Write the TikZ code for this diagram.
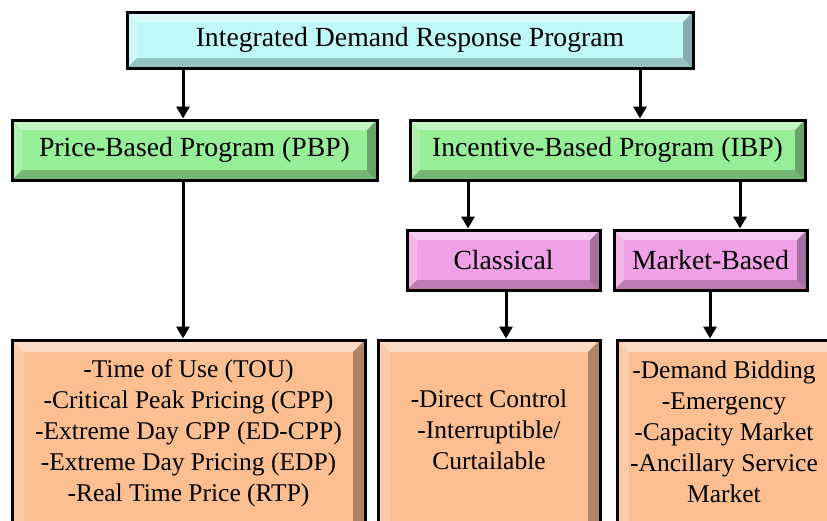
\documentclass[tikz,border=0pt]{standalone}
\usepackage{fontspec}
\setmainfont{Liberation Serif}
\usetikzlibrary{arrows.meta}

\definecolor{topcyan}{RGB}{190,248,248}
\definecolor{progreen}{RGB}{150,238,150}
\definecolor{typepink}{RGB}{240,160,230}
\definecolor{listorange}{RGB}{250,190,145}

\begin{document}
\begin{tikzpicture}[x=1pt,y=-1pt,
  box/.style={draw,line width=3pt,rectangle,inner sep=0pt,
    font=\fontsize{27.7}{31}\selectfont,align=center,
    path picture={
      \fill[white,opacity=.45] (path picture bounding box.north west) -- (path picture bounding box.north east)
        -- ([shift={(-#1,-#1)}]path picture bounding box.north east) -- ([shift={(#1,-#1)}]path picture bounding box.north west) -- cycle;
      \fill[white,opacity=.2] (path picture bounding box.north west) -- ([shift={(#1,-#1)}]path picture bounding box.north west)
        -- ([shift={(#1,#1)}]path picture bounding box.south west) -- (path picture bounding box.south west) -- cycle;
      \fill[black,opacity=.22] (path picture bounding box.south west) -- (path picture bounding box.south east)
        -- ([shift={(-#1,#1)}]path picture bounding box.south east) -- ([shift={(#1,#1)}]path picture bounding box.south west) -- cycle;
      \fill[black,opacity=.3] (path picture bounding box.north east) -- ([shift={(-#1,-#1)}]path picture bounding box.north east)
        -- ([shift={(-#1,#1)}]path picture bounding box.south east) -- (path picture bounding box.south east) -- cycle;
    }},
  box/.default=10pt,
  listtext/.style={font=\fontsize{25.5}{31}\selectfont,align=center},
  arr/.style={draw,line width=3pt,-{Triangle[length=12pt,width=13pt]}}]
\useasboundingbox (0,0) rectangle (827,520);
\clip (0,0) rectangle (827,520);

\node[box,fill=topcyan,minimum width=566pt,minimum height=56pt] (idr) at (410,40) {Integrated Demand Response Program};

\node[box,fill=progreen,minimum width=365pt,minimum height=60pt] (pbp) at (194.5,150) {Price-Based Program (PBP)};
\node[box,fill=progreen,minimum width=395pt,minimum height=60pt] (ibp) at (607.5,150) {Incentive-Based Program (IBP)};

\node[box,fill=typepink,minimum width=193pt,minimum height=60pt] (classical) at (503.5,260) {Classical};
\node[box,fill=typepink,minimum width=193pt,minimum height=60pt] (market) at (710.5,260) {Market-Based};

\node[box=12pt,fill=listorange,minimum width=353pt,minimum height=200pt] (pbplist) at (188.5,440) {};
\node[box=12pt,fill=listorange,minimum width=222pt,minimum height=200pt] (classlist) at (489,440) {};
\node[box=12pt,fill=listorange,minimum width=228pt,minimum height=200pt] (marketlist) at (731,440) {};

\node[listtext] (pbpitems) at (188.5,433) {-Time of Use (TOU)\\-Critical Peak Pricing (CPP)\\-Extreme Day CPP (ED-CPP)\\-Extreme Day Pricing (EDP)\\-Real Time Price (RTP)};
\node[listtext] (classitems) at (489,430) {-Direct Control\\-Interruptible/\\Curtailable};
\node[listtext] (marketitems) at (724,432) {-Demand Bidding\\-Emergency\\-Capacity Market\\-Ancillary Service\\Market};

\coordinate (colA) at (183,0);
\coordinate (colB) at (640,0);
\coordinate (colC) at (468,0);
\coordinate (colD) at (740,0);
\coordinate (colE) at (506,0);
\coordinate (colF) at (710,0);

\path[arr] (idr.south -| colA) -- (pbp.north -| colA);
\path[arr] (idr.south -| colB) -- (ibp.north -| colB);
\path[arr] (pbp.south -| colA) -- (pbplist.north -| colA);
\path[arr] (ibp.south -| colC) -- (classical.north -| colC);
\path[arr] (ibp.south -| colD) -- (market.north -| colD);
\path[arr] (classical.south -| colE) -- (classlist.north -| colE);
\path[arr] (market.south -| colF) -- (marketlist.north -| colF);
\end{tikzpicture}
\end{document}
